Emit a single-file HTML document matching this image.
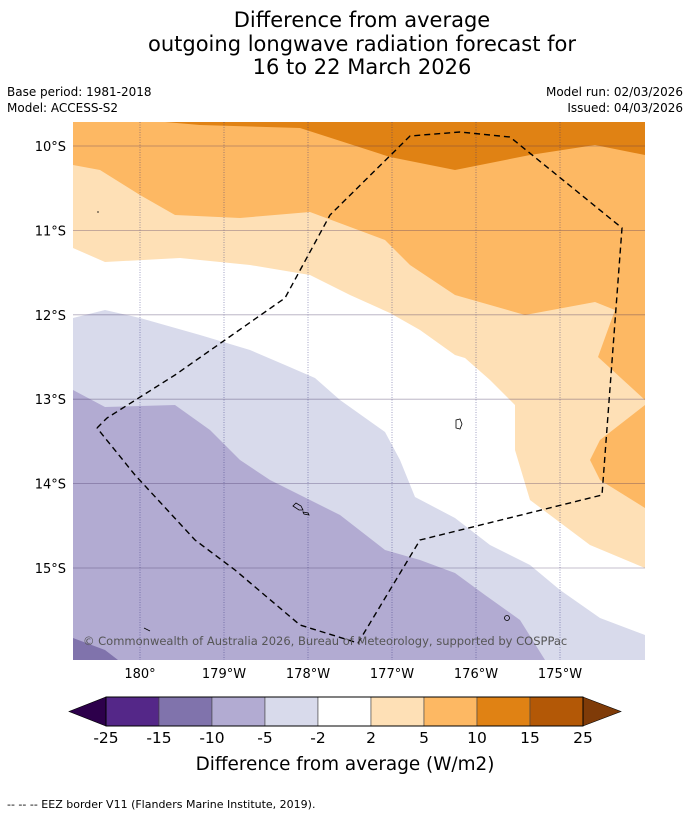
<!DOCTYPE html>
<html><head><meta charset="utf-8"><style>
body{margin:0;background:#fff;width:690px;height:816px;overflow:hidden;font-family:"DejaVu Sans","Liberation Sans",sans-serif}
svg{position:absolute;left:0;top:0}
</style></head><body>
<svg id="s" width="690" height="816" viewBox="0 0 690 816">
<g font-family="DejaVu Sans, Liberation Sans, sans-serif" fill="#000">
<text x="362" y="27" font-size="21" text-anchor="middle">Difference from average</text>
<text x="362" y="51" font-size="21" text-anchor="middle">outgoing longwave radiation forecast for</text>
<text x="362" y="74" font-size="21" text-anchor="middle">16 to 22 March 2026</text>
<text x="7" y="96" font-size="12">Base period: 1981-2018</text>
<text x="7" y="112" font-size="12">Model: ACCESS-S2</text>
<text x="683" y="96" font-size="12" text-anchor="end">Model run: 02/03/2026</text>
<text x="683" y="112" font-size="12" text-anchor="end">Issued: 04/03/2026</text>
</g>
<defs><clipPath id="mc"><rect x="73" y="122" width="572" height="538"/></clipPath></defs>
<g clip-path="url(#mc)">
<rect x="73" y="122" width="572" height="538" fill="#fff"/>
<polygon fill="#fee0b6" points="73,122 645,122 645,568 590,545 530,500 515,450 515,405 490,380 465,358 455,355 420,330 390,313 350,295 310,275 250,265 180,258 105,262 73,248"/>
<polygon fill="#fdb863" points="73,122 645,122 645,400 598,357 615,310 595,302 525,315 455,295 410,265 385,240 310,212 240,218 175,215 140,195 100,170 73,165"/>
<polygon fill="#fdb863" points="645,405 600,440 590,460 600,480 645,508"/>
<polygon fill="#e08214" points="165,122 645,122 645,155 595,145 530,155 455,170 390,157 300,128 200,125"/>
<polygon fill="#d8daeb" points="73,318 105,310 140,318 200,335 250,350 285,365 315,378 340,400 385,432 400,460 415,497 455,518 490,545 530,565 560,590 600,618 645,635 645,660 73,660"/>
<polygon fill="#b2abd2" points="73,390 105,407 175,405 210,430 240,460 270,480 310,500 340,515 385,550 420,560 455,573 485,595 520,620 545,660 73,660"/>
<polygon fill="#8073ac" points="73,638 105,650 118,660 73,660"/>
<g id="grid"></g>
<g fill="none" stroke="#000" stroke-width="0.8">
<path d="M293,506 l6,4 l4,0 l-2,-4 l-5,-3 z"/>
<path d="M303,512 l5,1 l1,2 l-5,-1 z"/>
<path d="M456,420 l4,-1 l2,5 l-2,5 l-4,-1 z"/>
<circle cx="507" cy="618" r="2.5"/>
<path d="M144,628 l6,3"/>
<path d="M98,211 l0,2"/>
</g>
<polyline fill="none" stroke="#000" stroke-width="1.4" stroke-dasharray="6,4" points="97,428 107,418 175,375 285,298 330,215 410,136 460,132 510,137 622,228 602,495 420,540 358,643 300,625 235,570 195,540 135,475 97,428"/>
<text x="83" y="645" font-size="11.5" fill="#555">© Commonwealth of Australia 2026, Bureau of Meteorology, supported by COSPPac</text>
</g>
<g id="axes" font-size="13"></g>
<g id="cbar"></g>
<text x="345" y="770" font-size="18.4" text-anchor="middle">Difference from average (W/m2)</text>
<text x="7" y="808" font-size="11">-- -- -- EEZ border V11 (Flanders Marine Institute, 2019).</text>
</svg>
<script>
const lonTicks=[180,181,182,183,184,185];
const lonLabels=["180°","179°W","178°W","177°W","176°W","175°W"];
const latTicks=[10,11,12,13,14,15];
const latLabels=["10°S","11°S","12°S","13°S","14°S","15°S"];
const levels=["-25","-15","-10","-5","-2","2","5","10","15","25"];
const levelColors=["#542788","#8073ac","#b2abd2","#d8daeb","#ffffff","#fee0b6","#fdb863","#e08214","#b35806"];
const NS="http://www.w3.org/2000/svg";
function xLon(l){return 140+(l-180)*84;}
function yLat(l){return 146+(l-10)*84.4;}
function mk(t,a,p){const e=document.createElementNS(NS,t);for(const k in a)e.setAttribute(k,a[k]);p.appendChild(e);return e;}
const grid=document.getElementById('grid'),axes=document.getElementById('axes'),cb=document.getElementById('cbar');
lonTicks.forEach((l,i)=>{
 const ln=mk('line',{x1:xLon(l),x2:xLon(l),y1:122,y2:660,stroke:'rgba(40,40,120,0.55)','stroke-width':0.8,'stroke-dasharray':'1,1.5'},grid);
 
 
 const t=mk('text',{x:xLon(l),y:678,'text-anchor':'middle'},axes);t.textContent=lonLabels[i];
 
 
});
latTicks.forEach((l,i)=>{
 const ln=mk('line',{x1:73,x2:645,y1:yLat(l),y2:yLat(l),stroke:'rgba(60,40,90,0.4)','stroke-width':0.8},grid);
 
 
 const t=mk('text',{x:66,y:yLat(l)+5,'text-anchor':'end'},axes);t.textContent=latLabels[i];
 
 
});
const cx0=106,cw=53,cy=697,ch=29;
levelColors.forEach((c,i)=>{
 const r=mk('rect',{x:cx0+i*cw,y:cy,width:cw,height:ch,fill:c,stroke:'#444','stroke-width':0.6},cb);
 
 
});
const lt=mk('polygon',{points:`${cx0},${cy} ${cx0},${cy+ch} 69,${cy+ch/2}`,fill:'#2d004b',stroke:'#000','stroke-width':0.6},cb);


const xe=cx0+levelColors.length*cw;
const rt=mk('polygon',{points:`${xe},${cy} ${xe},${cy+ch} 621,${cy+ch/2}`,fill:'#7f3b08',stroke:'#000','stroke-width':0.6},cb);


const fr=mk('rect',{x:cx0,y:cy,width:xe-cx0,height:ch,fill:'none',stroke:'#000','stroke-width':1},cb);


levels.forEach((v,i)=>{
 const t=mk('text',{x:cx0+i*cw,y:743,'text-anchor':'middle','font-size':15.5},cb);t.textContent=v;
 
 
});
</script>
</body></html>
